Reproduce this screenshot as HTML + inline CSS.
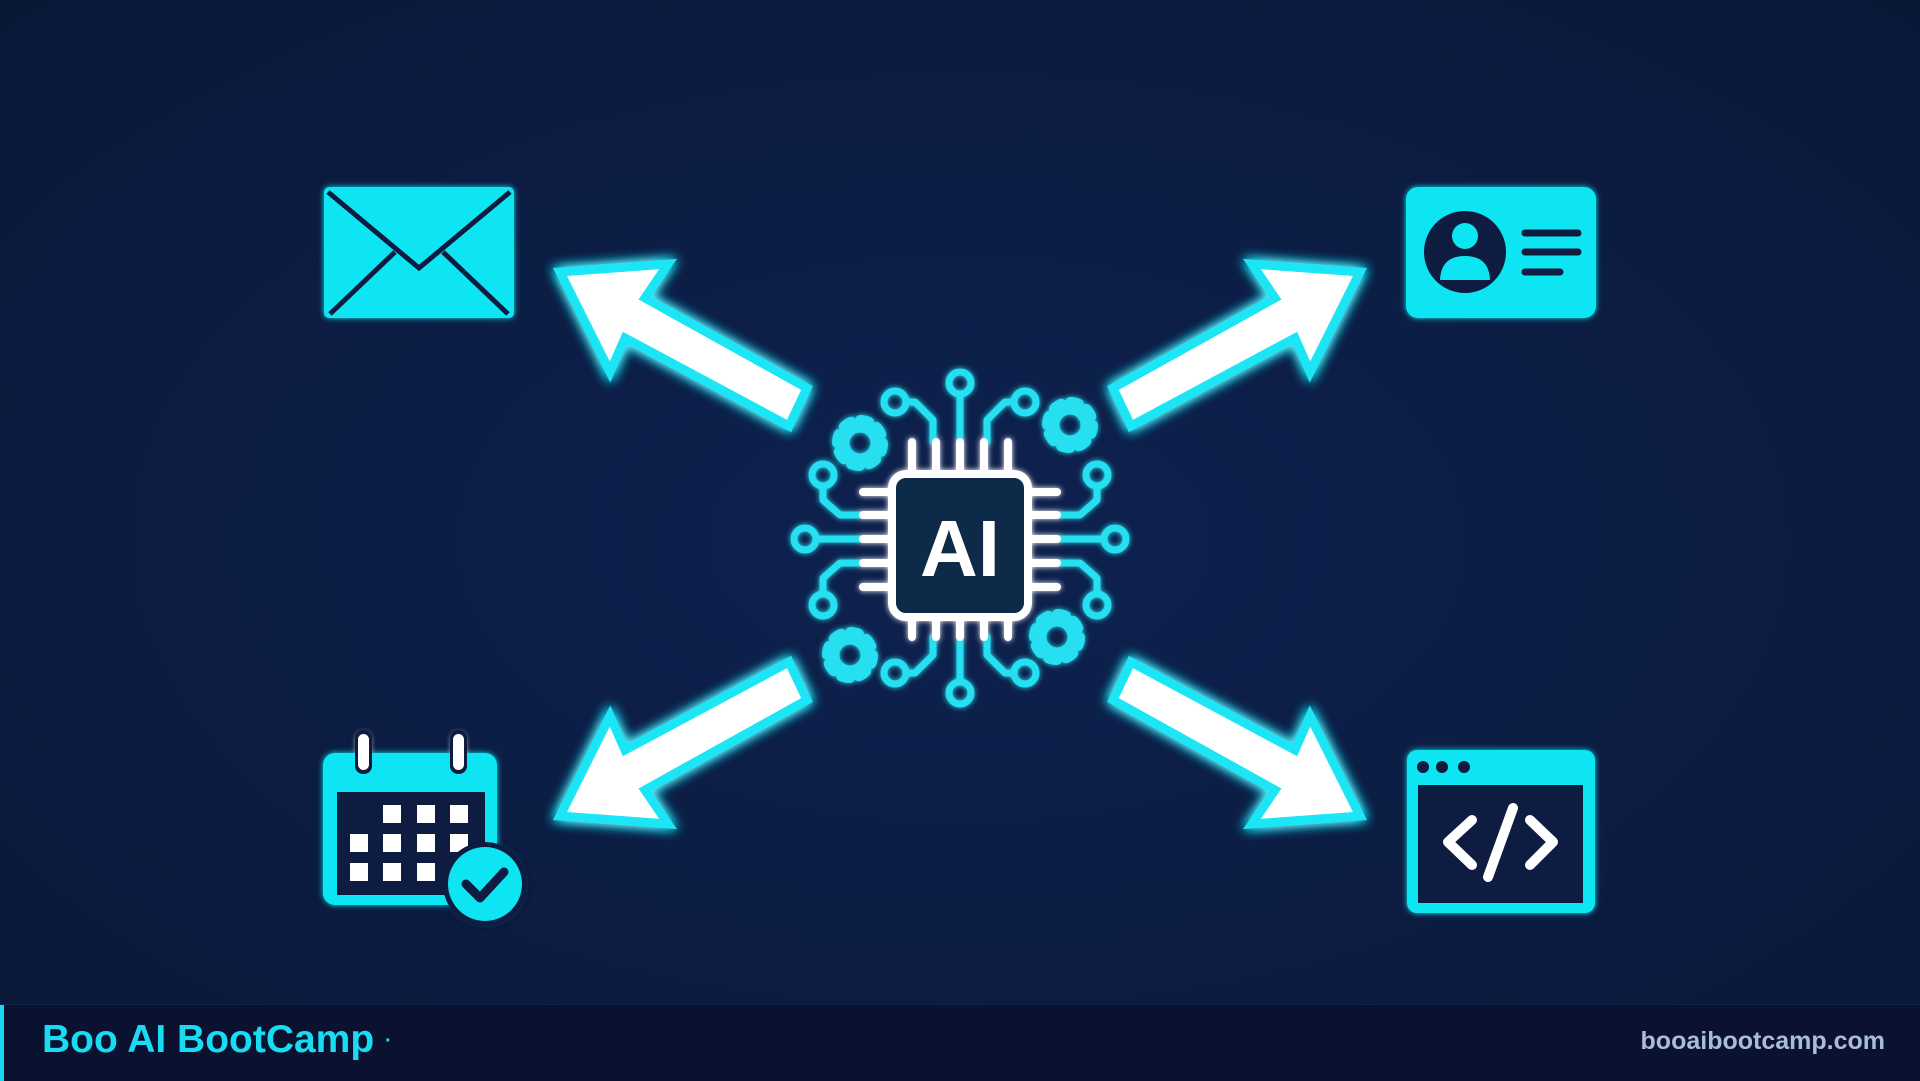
<!DOCTYPE html>
<html><head><meta charset="utf-8"><style>
html,body{margin:0;padding:0;width:1920px;height:1080px;overflow:hidden;background:#0b1a3f}
svg{position:absolute;left:0;top:0}
.bar{position:absolute;left:0;top:1004px;width:1920px;height:76px;background:#0a1230;border-top:1px solid #13224a}
.bar .edge{position:absolute;left:0;top:0;width:4px;height:76px;background:#19d8f0}
.l{position:absolute;left:42px;top:13px;font:bold 39px "Liberation Sans",sans-serif;color:#19dcf2;white-space:nowrap}
.r{position:absolute;right:35px;top:22px;font:bold 25px "Liberation Sans",sans-serif;color:#a9bcd8;white-space:nowrap}
</style></head><body>
<svg width="1920" height="1080" viewBox="0 0 1920 1080">
<defs>
<radialGradient id="bg" cx="50%" cy="50%" r="70%">
<stop offset="0" stop-color="#0e2250"/><stop offset="1" stop-color="#0a1838"/></radialGradient>
<filter id="glow" x="-30%" y="-30%" width="160%" height="160%">
<feGaussianBlur stdDeviation="6" result="b"/><feMerge><feMergeNode in="b"/><feMergeNode in="b"/><feMergeNode in="SourceGraphic"/></feMerge></filter>
<filter id="sglow" x="-30%" y="-30%" width="160%" height="160%">
<feGaussianBlur stdDeviation="3" result="b"/><feMerge><feMergeNode in="b"/><feMergeNode in="SourceGraphic"/></feMerge></filter>
<polygon id="arr" points="560,272 668,264 645,298 807,388 789,426 625,338 610,372" fill="#ffffff" stroke="#1fe6f5" stroke-width="9" stroke-linejoin="miter"/>
<g id="gear"><circle r="16" fill="none" stroke="#27dff0" stroke-width="11"/><circle r="23" fill="none" stroke="#27dff0" stroke-width="10" stroke-dasharray="9 9.06"/></g>
</defs>
<rect width="1920" height="1080" fill="url(#bg)"/>

<g filter="url(#glow)">
<use href="#arr"/>
<use href="#arr" transform="translate(1920,0) scale(-1,1)"/>
<use href="#arr" transform="translate(0,1088) scale(1,-1)"/>
<use href="#arr" transform="translate(1920,1088) scale(-1,-1)"/>
</g>

<g filter="url(#sglow)" fill="none" stroke-linecap="round" stroke-linejoin="round">
<g stroke="#27dff0" stroke-width="7">
<path d="M960,442 V394"/><circle cx="960" cy="383" r="11"/>
<path d="M933,442 V420 L915,402 H906"/><circle cx="895" cy="402" r="11"/>
<path d="M987,442 V420 L1005,402 H1014"/><circle cx="1025" cy="402" r="11"/>
<path d="M863,515 H840 L823,500 V486"/><circle cx="823" cy="475" r="11"/>
<path d="M863,539 H816"/><circle cx="805" cy="539" r="11"/>
<path d="M863,563 H840 L823,578 V594"/><circle cx="823" cy="605" r="11"/>
<path d="M1057,515 H1080 L1097,500 V486"/><circle cx="1097" cy="475" r="11"/>
<path d="M1057,539 H1104"/><circle cx="1115" cy="539" r="11"/>
<path d="M1057,563 H1080 L1097,578 V594"/><circle cx="1097" cy="605" r="11"/>
<path d="M960,637 V682"/><circle cx="960" cy="693" r="11"/>
<path d="M933,637 V655 L915,673 H906"/><circle cx="895" cy="673" r="11"/>
<path d="M987,637 V655 L1005,673 H1014"/><circle cx="1025" cy="673" r="11"/>
</g>
<use href="#gear" x="860" y="443"/>
<use href="#gear" x="1070" y="425"/>
<use href="#gear" x="850" y="655"/>
<use href="#gear" x="1057" y="637"/>
<g stroke="#ffffff" stroke-width="8">
<path d="M912,442V470M936,442V470M960,442V470M984,442V470M1008,442V470"/>
<path d="M912,620V637M936,620V637M960,620V637M984,620V637M1008,620V637"/>
<path d="M863,492H888M863,515H888M863,539H888M863,563H888M863,587H888"/>
<path d="M1032,492H1057M1032,515H1057M1032,539H1057M1032,563H1057M1032,587H1057"/>
<rect x="892" y="474" width="136" height="143" rx="14" fill="#0c2a4a"/>
</g>
<text x="960" y="576" text-anchor="middle" font-family="Liberation Sans,sans-serif" font-weight="bold" font-size="80" fill="#ffffff" stroke="none">AI</text>
</g>

<g filter="url(#sglow)">
<rect x="324" y="187" width="190" height="131" rx="5" fill="#10e6f2"/>
<path d="M328,192 L419,268 L510,192 M330,314 L395,252 M508,314 L443,252" fill="none" stroke="#0b1a3f" stroke-width="5"/>
</g>

<g filter="url(#sglow)">
<rect x="1406" y="187" width="190" height="131" rx="12" fill="#10e6f2"/>
<circle cx="1465" cy="252" r="41" fill="#0b1a3f"/>
<circle cx="1465" cy="236" r="13" fill="#10e6f2"/>
<path d="M1440,280 Q1441,256 1465,256 Q1489,256 1490,280 Z" fill="#10e6f2"/>
<path d="M1525,233H1578M1525,252H1578M1525,272H1560" stroke="#0b1a3f" stroke-width="7" stroke-linecap="round"/>
</g>

<g filter="url(#sglow)">
<rect x="323" y="753" width="174" height="152" rx="12" fill="#10e6f2"/>
<rect x="337" y="792" width="148" height="103" fill="#0b1a3f"/>
<rect x="355" y="730" width="17" height="44" rx="8" fill="#0b1a3f"/>
<rect x="450" y="730" width="17" height="44" rx="8" fill="#0b1a3f"/>
<rect x="358" y="734" width="11" height="36" rx="5.5" fill="#fff"/>
<rect x="453" y="734" width="11" height="36" rx="5.5" fill="#fff"/>
<g fill="#fff">
<rect x="383" y="805" width="18" height="18"/><rect x="417" y="805" width="18" height="18"/><rect x="450" y="805" width="18" height="18"/>
<rect x="350" y="834" width="18" height="18"/><rect x="383" y="834" width="18" height="18"/><rect x="417" y="834" width="18" height="18"/><rect x="450" y="834" width="18" height="18"/>
<rect x="350" y="863" width="18" height="18"/><rect x="383" y="863" width="18" height="18"/><rect x="417" y="863" width="18" height="18"/>
</g>
<circle cx="485" cy="884" r="42" fill="#0b1a3f"/>
<circle cx="485" cy="884" r="37" fill="#10e6f2"/>
<path d="M466,884 L480,898 L504,872" fill="none" stroke="#0b1a3f" stroke-width="9" stroke-linecap="round" stroke-linejoin="round"/>
</g>

<g filter="url(#sglow)">
<rect x="1407" y="750" width="188" height="163" rx="10" fill="#10e6f2"/>
<rect x="1418" y="785" width="165" height="118" fill="#0b1a3f"/>
<circle cx="1423" cy="767" r="6" fill="#0b1a3f"/><circle cx="1442" cy="767" r="6" fill="#0b1a3f"/><circle cx="1464" cy="767" r="6" fill="#0b1a3f"/>
<path d="M1472,820 L1448,842 L1472,865 M1513,808 L1488,877 M1530,820 L1553,842 L1530,865" fill="none" stroke="#fff" stroke-width="10" stroke-linecap="round" stroke-linejoin="round"/>
</g>
</svg>
<div class="bar"><div class="edge"></div><div class="l">Boo AI BootCamp <span style="font-size:20px;vertical-align:middle">·</span></div><div class="r">booaibootcamp.com</div></div>
</body></html>
